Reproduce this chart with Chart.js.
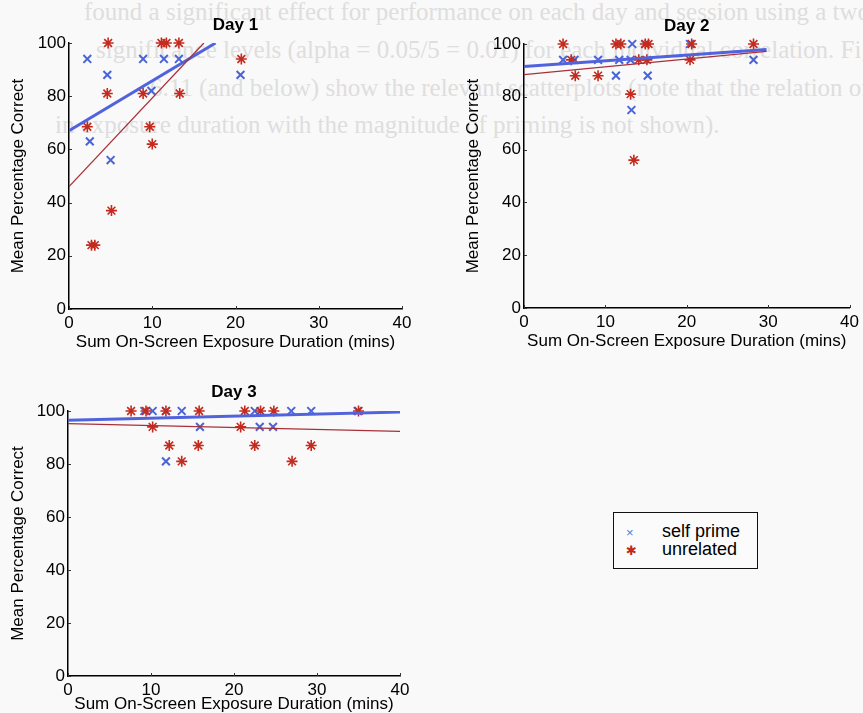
<!DOCTYPE html>
<html>
<head>
<meta charset="utf-8">
<script src="https://cdn.jsdelivr.net/npm/chart.js@4.4.0/dist/chart.umd.min.js"></script>
<style>
  body { margin: 0; background: #f9f9f9; width: 863px; height: 713px; overflow: hidden; position: relative; font-family: "Liberation Sans", Arial, sans-serif; }
  .bgtext { position: absolute; font-family: "Liberation Serif", serif; font-size: 25px; color: #dedede; white-space: nowrap; }
  .plot { position: absolute; }
  #legend { position: absolute; left: 613px; top: 512px; width: 143px; height: 55px; border: 1px solid #111; background: #fbfbfb; font-size: 18px; line-height: 18px; }
  #legend div { position: absolute; left: 12px; white-space: nowrap; }
  #legend span.txt { position: absolute; left: 36px; top: 0; color: #000; white-space: nowrap; }
</style>
</head>
<body>
<div class="bgtext" style="left:84px; top:-2px;">found a significant effect for performance on each day and session using a two-tailed</div>
<div class="bgtext" style="left:96px; top:36px;">significance levels (alpha = 0.05/5 = 0.01) for each individual correlation. Figures 6</div>
<div class="bgtext" style="left:150px; top:74px;">6.11 (and below) show the relevant scatterplots (note that the relation of</div>
<div class="bgtext" style="left:55px; top:111px;">in exposure duration with the magnitude of priming is not shown).</div>

<canvas id="day1" class="plot" style="left:0px; top:0px;" width="420" height="350"></canvas>
<canvas id="day2" class="plot" style="left:455px; top:0px;" width="408" height="350"></canvas>
<canvas id="day3" class="plot" style="left:0px; top:368px;" width="420" height="345"></canvas>

<div id="legend">
  <div style="top:9px;"><span style="color:#5b78d8; font-size:13px;">&#215;</span><span class="txt">self prime</span></div>
  <div style="top:27px;"><span style="color:#c0281e; font-size:13px; font-family:'DejaVu Sans';">&#10033;</span><span class="txt">unrelated</span></div>
</div>

<script>
// x = sum on-screen exposure duration (mins), y = mean percentage correct
const day1SelfX = [2.2, 4.6, 2.5, 5.0, 8.9, 9.9, 11.4, 13.2, 20.6];
const day1SelfY = [94, 88, 63, 56, 94, 82, 94, 94, 88];
const day1UnrelX = [2.2, 4.7, 4.6, 5.1, 2.7, 3.1, 8.9, 9.7, 10.0, 11.1, 11.7, 13.2, 13.3, 20.7];
const day1UnrelY = [68.5, 100, 81, 37, 24, 24, 81, 68.5, 62, 100, 100, 100, 81, 94];
const day1SelfFit = [[0, 67], [17.6, 100]];
const day1UnrelFit = [[0, 46], [16.2, 100]];

const day2SelfX = [4.8, 6.2, 9.1, 11.3, 11.7, 13.3, 13.2, 13.1, 15.2, 14.9, 20.4, 28.2];
const day2SelfY = [94, 94, 94, 88, 94, 100, 75, 94, 88, 100, 100, 94];
const day2UnrelX = [4.8, 5.8, 6.3, 9.1, 11.3, 11.9, 13.1, 13.5, 14.1, 14.9, 15.3, 15.1, 20.4, 20.6, 28.2];
const day2UnrelY = [100, 94, 88, 88, 100, 100, 81, 56, 94, 100, 100, 94, 94, 100, 100];
const day2SelfFit = [[0, 91.5], [29.8, 97.9]];
const day2UnrelFit = [[0, 88.4], [29.8, 97.2]];

const day3SelfX = [9.2, 10.2, 11.8, 13.7, 11.8, 15.9, 22.5, 23.1, 24.7, 26.9, 29.3, 34.9];
const day3SelfY = [100, 100, 100, 100, 81, 94, 100, 94, 94, 100, 100, 100];
const day3UnrelX = [7.6, 9.4, 11.8, 10.2, 12.2, 13.7, 15.8, 15.7, 20.8, 21.3, 22.5, 23.2, 24.8, 27.0, 29.3, 35.0];
const day3UnrelY = [100, 100, 100, 94, 87, 81, 100, 87, 94, 100, 87, 100, 100, 81, 87, 100];
const day3SelfFit = [[0, 96.5], [40, 99.6]];
const day3UnrelFit = [[0, 95.2], [40, 92.3]];

const xTicks = [0, 10, 20, 30, 40];
const yTicks = [0, 20, 40, 60, 80, 100];

const FONT = "'Liberation Sans', Arial, Helvetica, sans-serif";
const toPoints = (xs, ys) => xs.map((x, i) => ({ x: x, y: ys[i] }));
const toLine = (pts) => pts.map(p => ({ x: p[0], y: p[1] }));

// small tick marks drawn inward from the axes, like the original figure
const innerTicks = {
    id: 'innerTicks',
    afterDraw(chart) {
        const ctx = chart.ctx;
        const xs = chart.scales.x, ys = chart.scales.y;
        ctx.save();
        ctx.strokeStyle = '#333';
        ctx.lineWidth = 1;
        ctx.beginPath();
        xTicks.forEach(v => {
            const px = Math.round(xs.getPixelForValue(v)) + 0.5;
            ctx.moveTo(px, ys.bottom);
            ctx.lineTo(px, ys.bottom - 3);
        });
        yTicks.forEach(v => {
            const py = Math.round(ys.getPixelForValue(v)) + 0.5;
            ctx.moveTo(xs.left, py);
            ctx.lineTo(xs.left + 3, py);
        });
        ctx.stroke();
        ctx.restore();
    }
};

function renderDay(id, title, opts) {
    const cfg = {
        type: 'scatter',
        data: {
            datasets: [
                {
                    label: 'self prime fit',
                    type: 'line',
                    data: toLine(opts.selfFit),
                    borderColor: '#5063dc',
                    borderWidth: 3,
                    pointRadius: 0,
                    order: 2,
                },
                {
                    label: 'unrelated fit',
                    type: 'line',
                    data: toLine(opts.unrelFit),
                    borderColor: '#a8303a',
                    borderWidth: 1.3,
                    pointRadius: 0,
                    order: 1,
                },
                {
                    label: 'self prime',
                    data: toPoints(opts.selfX, opts.selfY),
                    pointStyle: 'crossRot',
                    pointRadius: 5.5,
                    pointBorderWidth: 2,
                    borderColor: '#4a64d6',
                    backgroundColor: '#4a64d6',
                    clip: false,
                    order: 4,
                },
                {
                    label: 'unrelated',
                    data: toPoints(opts.unrelX, opts.unrelY),
                    pointStyle: 'star',
                    pointRadius: 5.5,
                    pointBorderWidth: 1.6,
                    borderColor: '#c42a1e',
                    backgroundColor: '#c42a1e',
                    clip: false,
                    order: 3,
                },
            ]
        },
        options: {
            responsive: false,
            animation: false,
            layout: {
                padding: { left: 0, right: opts.padRight, top: 0, bottom: 0 },
            },
            plugins: {
                legend: { display: false },
                tooltip: { enabled: false },
                title: {
                    display: true,
                    text: title,
                    fullSize: false,
                    color: '#000',
                    font: { family: FONT, size: 17, weight: 'bold', lineHeight: 1.2 },
                    padding: { top: opts.titleTop, bottom: opts.titleBottom },
                },
            },
            scales: {
                x: {
                    type: 'linear',
                    min: 0,
                    max: 40,
                    afterFit: s => { s.height = opts.xAxisH; },
                    afterBuildTicks: s => { s.ticks = xTicks.map(v => ({ value: v })); },
                    grid: { display: true, drawOnChartArea: false, drawTicks: false },
                    border: { display: true, color: '#000', width: 1.5 },
                    ticks: { color: '#000', padding: 4, maxRotation: 0, font: { family: FONT, size: 17 } },
                    title: {
                        display: true,
                        text: 'Sum On-Screen Exposure Duration (mins)',
                        color: '#000',
                        font: { family: FONT, size: 17, lineHeight: 1.2 },
                        padding: { top: 0, bottom: opts.xTitleBottom },
                    },
                },
                y: {
                    type: 'linear',
                    min: 0,
                    max: 100,
                    afterFit: s => { s.width = opts.yAxisW; },
                    afterBuildTicks: s => { s.ticks = yTicks.map(v => ({ value: v })); },
                    grid: { display: true, drawOnChartArea: false, drawTicks: false },
                    border: { display: true, color: '#000', width: 1.5 },
                    ticks: { color: '#000', padding: 3, font: { family: FONT, size: 17 } },
                    title: {
                        display: true,
                        text: 'Mean Percentage Correct',
                        color: '#000',
                        font: { family: FONT, size: 17, lineHeight: 1.2 },
                        padding: { top: 8, bottom: 0 },
                    },
                },
            },
        },
        plugins: [innerTicks],
    };
    return new Chart(document.getElementById(id), cfg);
}

renderDay('day1', 'Day 1', {
    selfX: day1SelfX, selfY: day1SelfY, unrelX: day1UnrelX, unrelY: day1UnrelY,
    selfFit: day1SelfFit, unrelFit: day1UnrelFit,
    padRight: 18, titleTop: 15, titleBottom: 7.6, xAxisH: 41, yAxisW: 69, xTitleBottom: -3,
});
renderDay('day2', 'Day 2', {
    selfX: day2SelfX, selfY: day2SelfY, unrelX: day2UnrelX, unrelY: day2UnrelY,
    selfFit: day2SelfFit, unrelFit: day2UnrelFit,
    padRight: 10, titleTop: 16.5, titleBottom: 7.1, xAxisH: 42, yAxisW: 69, xTitleBottom: -2,
});
renderDay('day3', 'Day 3', {
    selfX: day3SelfX, selfY: day3SelfY, unrelX: day3UnrelX, unrelY: day3UnrelY,
    selfFit: day3SelfFit, unrelFit: day3UnrelFit,
    padRight: 20, titleTop: 13.8, titleBottom: 8.8, xAxisH: 37, yAxisW: 68, xTitleBottom: -2,
});
</script>
</body>
</html>
